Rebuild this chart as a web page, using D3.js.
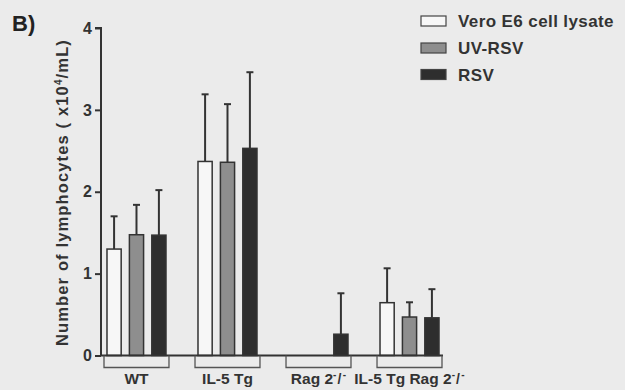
<!DOCTYPE html>
<html>
<head>
<meta charset="utf-8">
<script src="https://cdn.jsdelivr.net/npm/d3@7"></script>
<style>
  html, body { margin: 0; padding: 0; background: #ebebeb; }
  svg { display: block; font-family: "Liberation Sans", Arial, Helvetica, sans-serif; }
</style>
</head>
<body>
<svg id="chart" width="625" height="390"></svg>
<script>
// Mouse strains (x groups) and stimulation conditions (bars within a group)
const groups = ["WT", "IL-5 Tg", "Rag 2-/-", "IL-5 Tg Rag 2-/-"];
const series = ["Vero E6 cell lysate", "UV-RSV", "RSV"];

// Mean lymphocyte counts (x10^4/mL), one array per condition, ordered as groups
const veroMean = [1.30, 2.37, 0.00, 0.645];
const uvMean   = [1.475, 2.36, 0.00, 0.47];
const rsvMean  = [1.47, 2.53, 0.26, 0.46];

// Upper error (SD) for each bar
const veroErr = [0.40, 0.82, 0.00, 0.42];
const uvErr   = [0.365, 0.71, 0.00, 0.18];
const rsvErr  = [0.55, 0.93, 0.50, 0.35];

const yTicks = [0, 1, 2, 3, 4];

const colors = { "Vero E6 cell lysate": "#f7f7f7", "UV-RSV": "#8e8e8e", "RSV": "#2e2e2e" };
const ink = "#333333";

const means = [veroMean, uvMean, rsvMean];
const errs = [veroErr, uvErr, rsvErr];

const svg = d3.select("#chart");

const yAxisX = 101;
const y = d3.scaleLinear().domain([0, 4]).range([355.5, 28]);

const x0 = d3.scaleBand().domain(groups).range([104, 442]).paddingInner(0.286).paddingOuter(0);
const x1 = d3.scaleBand().domain(series).range([0, x0.bandwidth()]).paddingInner(0.3).paddingOuter(0.1);

// Flattened bar records
const bars = [];
groups.forEach((g, gi) => {
  series.forEach((s, si) => {
    bars.push({ group: g, series: s, value: means[si][gi], err: errs[si][gi] });
  });
});

// Error bars (upward only), drawn behind the bars
const eb = svg.append("g").attr("stroke", ink).attr("stroke-width", 2);
bars.filter(d => d.err > 0).forEach(d => {
  const cx = x0(d.group) + x1(d.series) + x1.bandwidth() / 2;
  eb.append("line").attr("x1", cx).attr("x2", cx)
    .attr("y1", y(d.value)).attr("y2", y(d.value + d.err));
  eb.append("line").attr("x1", cx - 3.5).attr("x2", cx + 3.5)
    .attr("y1", y(d.value + d.err)).attr("y2", y(d.value + d.err));
});

// Bars
svg.append("g").selectAll("rect").data(bars.filter(d => d.value > 0)).join("rect")
  .attr("x", d => x0(d.group) + x1(d.series) + 0.75)
  .attr("width", x1.bandwidth() - 1.5)
  .attr("y", d => y(d.value))
  .attr("height", d => y(0) - y(d.value))
  .attr("fill", d => colors[d.series])
  .attr("stroke", ink)
  .attr("stroke-width", 1.5);

// Y axis
const yAxis = d3.axisLeft(y).tickValues(yTicks).tickFormat(d3.format("d")).tickSize(6).tickPadding(3);
const yg = svg.append("g").attr("transform", `translate(${yAxisX},0)`).call(yAxis);
yg.select(".domain").attr("stroke", ink).attr("stroke-width", 2).attr("d", `M-6,${y(4)}H0V${y(0)}`);
yg.selectAll(".tick line").attr("stroke", ink).attr("stroke-width", 2);
yg.selectAll(".tick text").attr("fill", ink).attr("font-size", 16).attr("font-weight", "bold")
  .attr("font-family", "'Liberation Sans', Arial, sans-serif");

// X baseline
svg.append("line").attr("x1", yAxisX).attr("x2", 443).attr("y1", y(0)).attr("y2", y(0))
  .attr("stroke", ink).attr("stroke-width", 2);

// Group brackets and labels
const bracketBottom = 367.5;
const br = svg.append("g");
groups.forEach(g => {
  const a = x0(g), b = x0(g) + x0.bandwidth();
  br.append("path").attr("d", `M${a},${y(0)}V${bracketBottom}H${b}V${y(0)}`)
    .attr("fill", "none").attr("stroke", "#555").attr("stroke-width", 1.3);
  const t = br.append("text").attr("x", (a + b) / 2).attr("y", 384)
    .attr("text-anchor", "middle").attr("font-size", 15.5).attr("font-weight", "bold").attr("fill", ink);
  const m = g.match(/^(.*Rag 2)-\/-$/);
  if (m) {
    t.append("tspan").text(m[1]);
    t.append("tspan").text("-").attr("font-size", 10).attr("dy", -6);
    t.append("tspan").text("/").attr("font-size", 14).attr("dy", 6).attr("dx", 1);
    t.append("tspan").text("-").attr("font-size", 10).attr("dy", -6).attr("dx", 1.5);
  } else {
    t.text(g);
  }
});

// Y axis title, spread to its printed length
const yt = svg.append("text")
  .attr("transform", "translate(68,346) rotate(-90)")
  .attr("font-size", 16.5).attr("font-weight", "bold").attr("fill", ink);
yt.append("tspan").text("Number of lymphocytes ( x10");
yt.append("tspan").text("4").attr("font-size", 10).attr("dy", -6);
yt.append("tspan").text("/mL)").attr("dy", 6);
const targetLen = 307;
const natural = yt.node().getComputedTextLength();
const nChars = yt.text().length;
yt.attr("letter-spacing", Math.max(0, (targetLen - natural) / nChars));

// Panel letter
svg.append("text").attr("x", 12).attr("y", 31).attr("font-size", 22).attr("font-weight", "bold")
  .attr("fill", "#222").text("B)");

// Legend
const lg = svg.append("g").attr("transform", "translate(421,0)");
const rowY = [21, 48, 74.5];
series.forEach((s, i) => {
  lg.append("rect").attr("x", 0).attr("y", rowY[i] - 5).attr("width", 25).attr("height", 10)
    .attr("fill", colors[s]).attr("stroke", "#444").attr("stroke-width", 1.2);
  lg.append("text").attr("x", 37).attr("y", rowY[i] + 6).attr("font-size", 17)
    .attr("font-weight", "bold").attr("letter-spacing", 0.4).attr("fill", ink).text(s);
});
</script>
</body>
</html>
